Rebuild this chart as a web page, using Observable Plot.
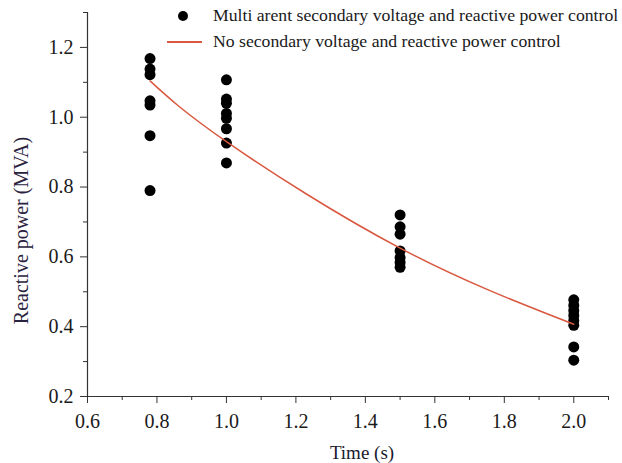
<!DOCTYPE html>
<html>
<head>
<meta charset="utf-8">
<script src="https://cdn.jsdelivr.net/npm/d3@7"></script>
<script src="https://cdn.jsdelivr.net/npm/@observablehq/plot@0.6"></script>
<style>
  html, body { margin: 0; padding: 0; background: #fff; }
  #wrap { position: relative; width: 622px; height: 463px; font-family: "Liberation Serif", "Times New Roman", serif; }
  #legend { position: absolute; left: 0; top: 0; width: 622px; pointer-events: none; }
  .item { position: absolute; left: 213px; font-size: 17.7px; color: #1a1a1a; white-space: nowrap; line-height: 1; font-family: "Liberation Serif", "Times New Roman", serif; }
  .sym { position: absolute; }
</style>
</head>
<body>
<div id="wrap">
  <div id="chart"></div>
  <div id="legend"></div>
</div>
<script>
// Series: multi-agent control (scatter)
const agentTime = [0.78,0.78,0.78,0.78,0.78,0.78,0.78,
                   1.0,1.0,1.0,1.0,1.0,1.0,1.0,1.0,
                   1.5,1.5,1.5,1.5,1.5,1.5,1.5,
                   2.0,2.0,2.0,2.0,2.0,2.0,2.0,2.0];
const agentPower = [1.168,1.138,1.122,1.047,1.035,0.947,0.790,
                    1.107,1.052,1.040,1.011,0.997,0.967,0.926,0.869,
                    0.720,0.686,0.665,0.617,0.598,0.584,0.570,
                    0.477,0.461,0.446,0.432,0.418,0.404,0.342,0.304];
// Series: no secondary control (line)
const baseTime = [0.78, 1.0, 1.5, 2.0];
const basePower = [1.104, 0.93, 0.625, 0.407];

const xMajor = [0.6,0.8,1.0,1.2,1.4,1.6,1.8,2.0];
const xMinor = [0.7,0.9,1.1,1.3,1.5,1.7,1.9,2.1];
const yMajor = [0.2,0.4,0.6,0.8,1.0,1.2];
const yMinor = [0.3,0.5,0.7,0.9,1.1,1.3];

const seriesNames = ["Multi arent secondary voltage and reactive power control",
                     "No secondary voltage and reactive power control"];
const lineColor = "#d9583f";
const serif = "Liberation Serif";

const scatter = agentTime.map((t, i) => ({t, p: agentPower[i]}));
const base = baseTime.map((t, i) => ({t, p: basePower[i]}));

const axisColor = "#333";
const textColor = "#1a1a1a";
const plot = Plot.plot({
  width: 622,
  height: 463,
  marginLeft: 87,
  marginRight: 14,
  marginTop: 12,
  marginBottom: 67,
  style: {fontFamily: serif, fontSize: "20px", color: textColor, background: "#fff"},
  x: {domain: [0.6, 2.1]},
  y: {domain: [0.2, 1.3]},
  marks: [
    // tick marks (labels drawn separately as text marks)
    Plot.axisX({ticks: xMajor, tickSize: 7, tickFormat: () => "", label: null, stroke: axisColor}),
    Plot.axisX({ticks: xMinor, tickSize: 4, tickFormat: () => "", label: null, stroke: axisColor}),
    Plot.axisY({ticks: yMajor, tickSize: 7, tickFormat: () => "", label: null, stroke: axisColor}),
    Plot.axisY({ticks: yMinor, tickSize: 4, tickFormat: () => "", label: null, stroke: axisColor}),
    Plot.text(xMajor, {x: d => d, frameAnchor: "bottom", text: d => d.toFixed(1), textAnchor: "middle", lineAnchor: "middle", dy: 25, fontSize: 20, fontFamily: serif, fill: textColor}),
    Plot.text(yMajor, {y: d => d, frameAnchor: "left", text: d => d.toFixed(1), textAnchor: "end", lineAnchor: "middle", dx: -14, fontSize: 20, fontFamily: serif, fill: textColor}),
    Plot.ruleX([0.6], {stroke: axisColor, strokeWidth: 1.2}),
    Plot.ruleY([0.2], {stroke: axisColor, strokeWidth: 1.2}),
    Plot.dot(scatter, {x: "t", y: "p", r: 5.5, fill: "#000", stroke: "none"}),
    Plot.line(base, {x: "t", y: "p", stroke: lineColor, strokeWidth: 1.5, curve: "natural"}),
    Plot.text(["Time (s)"], {frameAnchor: "bottom", textAnchor: "middle", dx: 14, dy: 56, fontSize: 19, fontFamily: serif, fill: "#1a1a2e", lineAnchor: "middle"}),
    Plot.text(["Reactive power (MVA)"], {frameAnchor: "left", textAnchor: "middle", dx: -66, dy: 26, rotate: -90, fontSize: 20, fontFamily: serif, fill: "#2a2340", lineAnchor: "middle"})
  ]
});
document.getElementById("chart").appendChild(plot);

// Legend overlay
const legend = document.getElementById("legend");
const rows = [{y: 16, type: "dot"}, {y: 42, type: "line"}];
rows.forEach((r, i) => {
  const sym = document.createElement("div");
  sym.className = "sym";
  if (r.type === "dot") {
    Object.assign(sym.style, {left: "178px", top: (r.y - 5) + "px", width: "10px", height: "10px", borderRadius: "50%", background: "#000"});
  } else {
    Object.assign(sym.style, {left: "167px", top: (r.y - 0.75) + "px", width: "35px", height: "1.5px", background: lineColor});
  }
  legend.appendChild(sym);
  const t = document.createElement("div");
  t.className = "item";
  t.textContent = seriesNames[i];
  t.style.top = (r.y - 9) + "px";
  legend.appendChild(t);
});
</script>
</body>
</html>
